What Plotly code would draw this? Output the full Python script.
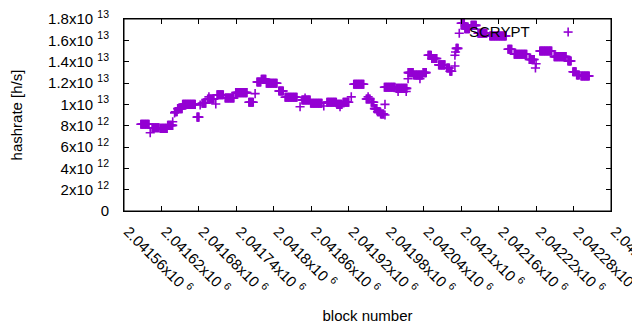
import numpy as np
import plotly.graph_objects as go

# Runs of consecutive blocks with a constant hashrate estimate
seg_start = [2041587, 2041605, 2041618, 2041630, 2041642, 2041646, 2041654, 2041677, 2041685, 2041694,
             2041709, 2041722, 2041739, 2041760, 2041773, 2041780, 2041788, 2041808, 2041818, 2041845,
             2041859, 2041885, 2041901, 2041911, 2041928, 2041948, 2041956, 2041961, 2041966, 2041971,
             2041977, 2041996, 2042015, 2042024, 2042039, 2042047, 2042053, 2042064, 2042077, 2042082,
             2042092, 2042100, 2042106, 2042116, 2042127, 2042146, 2042175, 2042185, 2042209, 2042226,
             2042249, 2042271, 2042279, 2042285, 2042292]
seg_end = [2041600, 2041616, 2041629, 2041638, 2041645, 2041653, 2041674, 2041680, 2041691, 2041704,
           2041719, 2041736, 2041757, 2041767, 2041779, 2041787, 2041805, 2041815, 2041837, 2041858,
           2041877, 2041900, 2041909, 2041920, 2041944, 2041954, 2041960, 2041965, 2041970, 2041976,
           2041994, 2042013, 2042023, 2042038, 2042044, 2042052, 2042061, 2042074, 2042081, 2042085,
           2042095, 2042105, 2042113, 2042124, 2042141, 2042172, 2042181, 2042205, 2042217, 2042245,
           2042268, 2042276, 2042284, 2042289, 2042305]
seg_value = [8.13e12, 7.80e12, 7.75e12, 8.03e12, 9.30e12, 9.60e12, 10.0e12, 8.80e12, 10.1e12, 10.5e12,
             10.9e12, 10.6e12, 11.1e12, 10.2e12, 12.1e12, 12.35e12, 11.97e12, 11.25e12, 10.66e12, 10.4e12,
             10.1e12, 10.19e12, 10.0e12, 10.2e12, 11.88e12, 10.5e12, 10.2e12, 9.6e12, 9.3e12, 9.1e12,
             11.6e12, 11.5e12, 12.97e12, 12.75e12, 12.97e12, 14.6e12, 14.3e12, 13.7e12, 13.4e12, 13.1e12,
             15.25e12, 17.6e12, 17.1e12, 17.4e12, 16.66e12, 16.4e12, 15.16e12, 14.7e12, 14.2e12, 15.0e12,
             14.47e12, 14.06e12, 13.06e12, 12.75e12, 12.66e12]

# Isolated single-block estimates
single_block = [2041602, 2041638, 2041641, 2041682, 2041696, 2041707, 2041770, 2041842, 2041850, 2041880,
                2041906, 2041924, 2041951, 2041978, 2041978, 2041999, 2042012, 2042015, 2042034, 2042090,
                2042090, 2042091, 2042097, 2042219, 2042220]
single_value = [7.34e12, 8.37e12, 9.2e12, 9.94e12, 10.7e12, 10.03e12, 11.0e12, 9.78e12, 10.6e12, 9.84e12,
                9.78e12, 10.7e12, 10.7e12, 10.0e12, 9.0e12, 11.2e12, 11.2e12, 12.4e12, 12.4e12, 13.6e12,
                14.6e12, 14.9e12, 16.66e12, 13.4e12, 13.8e12]

x_tick_vals = [2041560, 2041620, 2041680, 2041740, 2041800, 2041860, 2041920,
               2041980, 2042040, 2042100, 2042160, 2042220, 2042280, 2042340]
x_tick_mant = ["2.04156", "2.04162", "2.04168", "2.04174", "2.0418", "2.04186", "2.04192",
               "2.04198", "2.04204", "2.0421", "2.04216", "2.04222", "2.04228", "2.04234"]
y_tick_vals = [0, 2e12, 4e12, 6e12, 8e12, 1e13, 1.2e13, 1.4e13, 1.6e13, 1.8e13]
y_tick_mant = ["0", "2", "4", "6", "8", "1", "1.2", "1.4", "1.6", "1.8"]
y_tick_exp = [None, 12, 12, 12, 12, 13, 13, 13, 13, 13]

# expand runs to one point per block
xs, ys = [], []
for s, e, v in zip(seg_start, seg_end, seg_value):
    blocks = np.arange(s, e + 1)
    xs.extend(blocks.tolist())
    ys.extend([v] * len(blocks))
xs.extend(single_block)
ys.extend(single_value)

COLOR = "#9400D3"
FONT = "Liberation Sans, Arial, sans-serif"

def sup(m, e):
    if e is None:
        return m
    return f"{m}x10 <sup>{e}</sup>"

fig = go.Figure()
fig.add_trace(go.Scatter(
    x=xs, y=ys, mode="markers", name="SCRYPT", showlegend=False,
    marker=dict(symbol="cross-thin", size=6.5, line=dict(color=COLOR, width=1.6), color=COLOR),
))

# plot frame
fig.add_shape(type="rect", xref="paper", yref="paper", x0=0, x1=1, y0=0, y1=1,
              line=dict(color="black", width=1), layer="above")

# gnuplot-style key: text, then sample point on the right
fig.add_annotation(xref="paper", yref="paper", x=0.838, y=0.9375, text="SCRYPT",
                   showarrow=False, xanchor="right", yanchor="middle",
                   font=dict(family=FONT, size=15, color="black"))
kx, ky = 0.912, 0.932
dx, dy = 4.5 / 487, 4.5 / 192
fig.add_shape(type="line", xref="paper", yref="paper", x0=kx - dx, x1=kx + dx, y0=ky, y1=ky,
              line=dict(color=COLOR, width=1.6))
fig.add_shape(type="line", xref="paper", yref="paper", x0=kx, x1=kx, y0=ky - dy, y1=ky + dy,
              line=dict(color=COLOR, width=1.6))

fig.update_layout(
    width=632, height=322,
    margin=dict(l=116, r=29, t=11, b=119),
    paper_bgcolor="white", plot_bgcolor="white",
    font=dict(family=FONT, size=15, color="black"),
    showlegend=False,
)
fig.update_xaxes(
    range=[2041560, 2042340], showgrid=False, zeroline=False,
    showline=True, linecolor="black", linewidth=1, mirror="ticks",
    ticks="inside", ticklen=5, tickcolor="black",
    tickvals=x_tick_vals, ticktext=[sup(m, 6) for m in x_tick_mant],
    tickangle=45, automargin=False, ticklabeloverflow="allow",
    ticklabelshift=4, ticklabelstandoff=5,
    title=dict(text="block number", font=dict(size=15), standoff=13),
)
fig.update_yaxes(
    range=[0, 1.8e13], showgrid=False, zeroline=False,
    showline=True, linecolor="black", linewidth=1, mirror="ticks",
    ticks="inside", ticklen=5, tickcolor="black",
    tickvals=y_tick_vals, ticktext=[sup(m, e) for m, e in zip(y_tick_mant, y_tick_exp)],
    ticklabelstandoff=11, automargin=False, ticklabeloverflow="allow",
    title=dict(text="hashrate [h/s]", font=dict(size=15), standoff=21),
)

fig.write_html("out.html")
